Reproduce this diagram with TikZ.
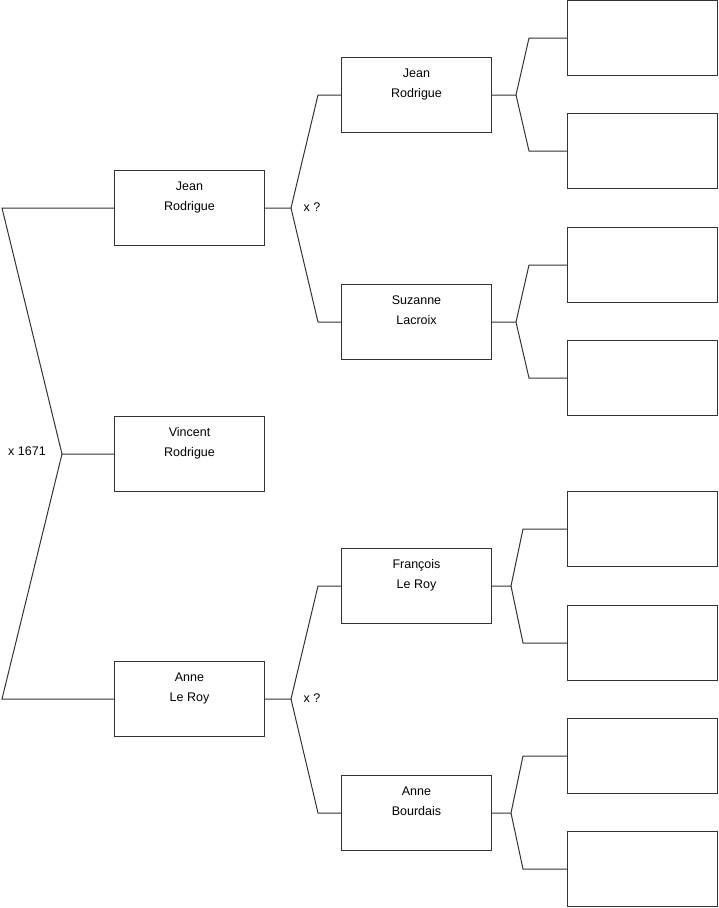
\documentclass[tikz,border=0pt]{standalone}
\usepackage{fontspec}
\setmainfont{Liberation Sans}
\usepackage{tikz}
\usetikzlibrary{positioning}

\begin{document}
\begin{tikzpicture}[x=1pt,y=-1pt,
person/.style={draw=black!80,line width=1pt,minimum width=150pt,minimum height=75pt,
  inner sep=0pt,align=center,font=\fontsize{12.5}{20}\selectfont},
link/.style={draw=black!80,line width=1pt},
union/.style={font=\fontsize{12.5}{15}\selectfont}]
\useasboundingbox (0,0) rectangle (719,908);

% generation 0 and 1
\node[person] (vr)  at (189.5,454) {Vincent\\Rodrigue\\[4pt]\mbox{}};
\node[person] (jr1) at (189.5,208) {Jean\\Rodrigue\\[4pt]\mbox{}};
\node[person] (al)  at (189.5,699) {Anne\\Le Roy\\[4pt]\mbox{}};

% generation 2
\node[person] (jr2) at (416.5,95)  {Jean\\Rodrigue\\[4pt]\mbox{}};
\node[person] (sl)  at (416.5,322) {Suzanne\\Lacroix\\[4pt]\mbox{}};
\node[person] (fl)  at (416.5,586) {François\\Le Roy\\[4pt]\mbox{}};
\node[person] (ab)  at (416.5,813) {Anne\\Bourdais\\[4pt]\mbox{}};

% generation 3 (unknown)
\node[person] (u1) at (642.5,38)  {};
\node[person] (u2) at (642.5,151) {};
\node[person] (u3) at (642.5,265) {};
\node[person] (u4) at (642.5,378) {};
\node[person] (u5) at (642.5,529) {};
\node[person] (u6) at (642.5,643) {};
\node[person] (u7) at (642.5,756) {};
\node[person] (u8) at (642.5,869) {};

% fork points
\coordinate (f0) at (62,454);
\coordinate (f0a) at (2,208);
\coordinate (f0b) at (2,699);
\coordinate (f1) at (291,208);
\coordinate (f1a) at (318,95);
\coordinate (f1b) at (318,322);
\coordinate (f2) at (291,699);
\coordinate (f2a) at (318,586);
\coordinate (f2b) at (318,813);
\coordinate (f3) at (516,95);
\coordinate (f3a) at (529,38);
\coordinate (f3b) at (529,151);
\coordinate (f4) at (516,322);
\coordinate (f4a) at (529,265);
\coordinate (f4b) at (529,378);
\coordinate (f5) at (511,586);
\coordinate (f5a) at (523,529);
\coordinate (f5b) at (523,643);
\coordinate (f6) at (511,813);
\coordinate (f6a) at (523,756);
\coordinate (f6b) at (523,869);

\draw[link] (vr.west) -- (f0) -- (f0a) -- (jr1.west);
\draw[link] (f0) -- (f0b) -- (al.west);
\draw[link] (jr1.east) -- (f1) -- (f1a) -- (jr2.west);
\draw[link] (f1) -- (f1b) -- (sl.west);
\draw[link] (al.east) -- (f2) -- (f2a) -- (fl.west);
\draw[link] (f2) -- (f2b) -- (ab.west);
\draw[link] (jr2.east) -- (f3) -- (f3a) -- (u1.west);
\draw[link] (f3) -- (f3b) -- (u2.west);
\draw[link] (sl.east) -- (f4) -- (f4a) -- (u3.west);
\draw[link] (f4) -- (f4b) -- (u4.west);
\draw[link] (fl.east) -- (f5) -- (f5a) -- (u5.west);
\draw[link] (f5) -- (f5b) -- (u6.west);
\draw[link] (ab.east) -- (f6) -- (f6a) -- (u7.west);
\draw[link] (f6) -- (f6b) -- (u8.west);

% marriages
\node[union] (m0) at (27,451) {x 1671};
\node[union] (m1) at (312,207) {x ?};
\node[union] (m2) at (312,698) {x ?};

\end{tikzpicture}
\end{document}
